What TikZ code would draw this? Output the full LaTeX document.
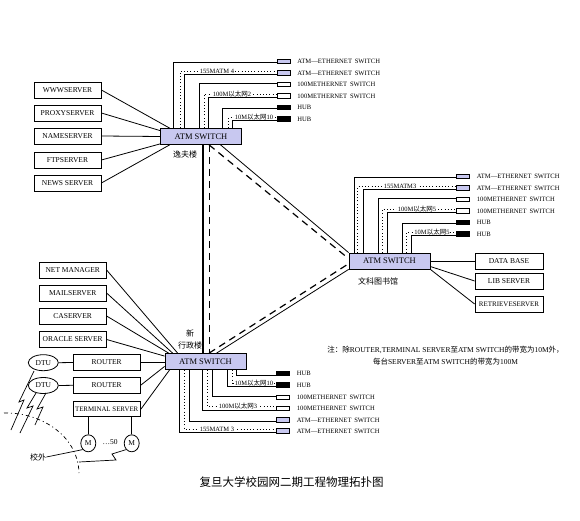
\documentclass[tikz,border=0pt]{standalone}
\usepackage{fontspec}
\setmainfont{Liberation Serif}
\newfontfamily\cjk{Noto Sans CJK SC}
\usetikzlibrary{calc,shapes.geometric}
\definecolor{swblue}{RGB}{200,200,240}
\begin{document}
\begin{tikzpicture}[x=1pt,y=-1pt,line width=0.8pt,
  srv/.style={draw,fill=white,minimum width=67pt,minimum height=16pt,inner sep=0pt,font=\fontsize{7.5}{8}\selectfont},
  swbox/.style={draw,fill=swblue,minimum width=81pt,minimum height=16pt,inner sep=0pt,font=\fontsize{8.5}{9}\selectfont},
  dev/.style={draw,minimum width=13pt,minimum height=4.5pt,inner sep=0pt},
  devA/.style={dev,fill=swblue},
  devE/.style={dev,fill=white},
  devH/.style={dev,fill=black},
  devlbl/.style={anchor=west,inner sep=0pt,font=\fontsize{6.6}{7}\selectfont},
  lnk/.style={anchor=south,fill=white,inner xsep=0.5pt,inner ysep=0.6pt,font=\fontsize{6.5}{6.5}\selectfont},
  dotl/.style={line width=0.9pt,dash pattern=on 0.9pt off 2.3pt},
  dashl/.style={line width=1.2pt,dash pattern=on 7pt off 5pt},
  cjklbl/.style={inner sep=0pt,font={\cjk\fontsize{8}{9}\selectfont}},
  dtu/.style={draw,ellipse,minimum width=30pt,minimum height=16pt,inner sep=0pt,font=\fontsize{7.5}{8}\selectfont},
  mc/.style={draw,ellipse,minimum width=15pt,minimum height=17pt,inner sep=0pt,font=\fontsize{7.5}{8}\selectfont},
  notef/.style={inner sep=0pt,font=\fontsize{7.5}{8}\selectfont}]
\useasboundingbox (0,0) rectangle (580,521);

% ---------- top switch ----------
\node[swbox] (tsw) at (201,136.5) {ATM SWITCH};
\node[cjklbl] (tswl) at (185,154) {逸夫楼};
\node[srv] (www) at (67.5,90) {WWWSERVER};
\node[srv] (proxy) at (67.5,113) {PROXYSERVER};
\node[srv] (name) at (67.5,136) {NAMESERVER};
\node[srv] (ftp) at (67.5,160) {FTPSERVER};
\node[srv] (news) at (67.5,183) {NEWS SERVER};
\draw (www.east) -- ($(tsw.north west)+(9.5,0)$);
\draw (proxy.east) -- ($(tsw.north west)+(0,2.5)$);
\draw (name.east) -- (tsw.west);
\draw (ftp.east) -- ($(tsw.south west)+(0,-1)$);
\draw (news.east) -- ($(tsw.south west)+(9.5,0)$);

\node[devA] (t1) at (283.5,61.5) {};
\node[devA] (t2) at (283.5,73) {};
\node[devE] (t3) at (283.5,84.5) {};
\node[devE] (t4) at (283.5,96) {};
\node[devH] (t5) at (283.5,107.5) {};
\node[devH] (t6) at (283.5,119) {};
\node[devlbl] (t1l) at (297,61.5) {ATM—ETHERNET\, SWITCH};
\node[devlbl] (t2l) at (297,73) {ATM—ETHERNET\, SWITCH};
\node[devlbl] (t3l) at (297,84.5) {100METHERNET\, SWITCH};
\node[devlbl] (t4l) at (297,96) {100METHERNET\, SWITCH};
\node[devlbl] (t5l) at (297,107.5) {HUB};
\node[devlbl] (t6l) at (297,119) {HUB};

\draw ($(tsw.north west)+(13.5,0)$) |- ($(t1.west)+(0,1)$);
\draw[dotl] ($(tsw.north west)+(20,0)$) |- ($(t2.west)+(0,-1.8)$);
\draw ($(tsw.north west)+(24.5,0)$) |- ($(t2.west)+(0,1.8)$);
\node[lnk] (tBl) at (217,74.8) {155MATM 4};
\draw ($(tsw.north west)+(39.5,0)$) |- ($(t3.west)+(0,-1)$);
\draw[dotl] ($(tsw.north west)+(44,0)$) |- ($(t4.west)+(0,-1.8)$);
\draw ($(tsw.north west)+(48.5,0)$) |- ($(t4.west)+(0,1.8)$);
\node[lnk] (tDl) at (232,97.8) {100M{\cjk 以太网}2};
\draw ($(tsw.north west)+(62,0)$) |- ($(t5.west)+(0,1)$);
\draw[dotl] ($(tsw.north west)+(68.5,0)$) |- ($(t6.west)+(0,-1.8)$);
\draw ($(tsw.north west)+(72.5,0)$) |- ($(t6.west)+(0,1.8)$);
\node[lnk] (tFl) at (254,120.8) {10M{\cjk 以太网}10};

% ---------- middle switch ----------
\node[swbox] (msw) at (389.5,261) {ATM SWITCH};
\node[cjklbl] (mswl) at (378,281.5) {文科图书馆};
\node[srv,minimum width=68pt] (db) at (509,261) {DATA BASE};
\node[srv,minimum width=68pt] (lib) at (509,281) {LIB SERVER};
\node[srv,minimum width=68pt,font=\fontsize{7}{8}\selectfont] (ret) at (509,304) {RETRIEVESERVER};
\draw (msw.east) -- (db.west);
\draw ($(msw.east)+(0,5.5)$) -- (lib.west);
\draw (msw.south east) -- (ret.west);

\node[devA] (m1) at (462.5,176.5) {};
\node[devA] (m2) at (462.5,188) {};
\node[devE] (m3) at (462.5,199.5) {};
\node[devE] (m4) at (462.5,211) {};
\node[devH] (m5) at (462.5,222.5) {};
\node[devH] (m6) at (462.5,234) {};
\node[devlbl] (m1l) at (476.5,176.5) {ATM—ETHERNET\, SWITCH};
\node[devlbl] (m2l) at (476.5,188) {ATM—ETHERNET\, SWITCH};
\node[devlbl] (m3l) at (476.5,199.5) {100METHERNET\, SWITCH};
\node[devlbl] (m4l) at (476.5,211) {100METHERNET\, SWITCH};
\node[devlbl] (m5l) at (476.5,222.5) {HUB};
\node[devlbl] (m6l) at (476.5,234) {HUB};

\draw ($(msw.north west)+(5.3,0)$) |- ($(m1.west)+(0,1)$);
\draw[dotl] ($(msw.north west)+(9.3,0)$) |- ($(m2.west)+(0,-1.8)$);
\draw ($(msw.north west)+(14.3,0)$) |- ($(m2.west)+(0,1.8)$);
\node[lnk] (mBl) at (400,189.8) {155MATM3};
\draw ($(msw.north west)+(29.3,0)$) |- ($(m3.west)+(0,-1)$);
\draw[dotl] ($(msw.north west)+(33.7,0)$) |- ($(m4.west)+(0,-1.8)$);
\draw ($(msw.north west)+(38.7,0)$) |- ($(m4.west)+(0,1.8)$);
\node[lnk] (mDl) at (417,212.8) {100M{\cjk 以太网}5};
\draw ($(msw.north west)+(53.3,0)$) |- ($(m5.west)+(0,1)$);
\draw[dotl] ($(msw.north west)+(57.7,0)$) |- ($(m6.west)+(0,-1.8)$);
\draw ($(msw.north west)+(62.7,0)$) |- ($(m6.west)+(0,1.8)$);
\node[lnk] (mFl) at (432,235.8) {10M{\cjk 以太网}5};

% ---------- bottom switch ----------
\node[swbox] (bsw) at (205.5,361.5) {ATM SWITCH};
\node[cjklbl] (xin) at (190,333) {新};
\node[cjklbl] (xzl) at (190,345.5) {行政楼};
\node[srv] (netm) at (72.7,270) {NET MANAGER};
\node[srv] (mail) at (72.7,293) {MAILSERVER};
\node[srv] (ca) at (72.7,316) {CASERVER};
\node[srv] (oracle) at (72.7,339.5) {ORACLE SERVER};
\node[srv] (r1) at (106.7,362.5) {ROUTER};
\node[srv] (r2) at (106.7,385.3) {ROUTER};
\node[srv,line width=1.3pt,minimum height=15pt,font=\fontsize{6.9}{8}\selectfont] (ts) at (106.7,409.2) {TERMINAL SERVER};
\node[dtu] (d1) at (43.3,362.7) {DTU};
\node[dtu] (d2) at (43.3,385.5) {DTU};
\node[mc] (mo1) at (88.3,443.3) {M};
\node[mc] (mo2) at (131.7,443.3) {M};
\node[inner sep=0pt,font=\fontsize{7.5}{8}\selectfont] (dots) at (110,442) {…50};
\node[cjklbl] (xw) at (38,457) {校外};

\draw (netm.east) -- ($(bsw.north west)+(13,0)$);
\draw (mail.east) -- ($(bsw.north west)+(8,0)$);
\draw (ca.east) -- ($(bsw.north west)+(4,0)$);
\draw (oracle.east) -- ($(bsw.north west)+(0,3)$);
\draw (r1.east) -- (r1.east -| bsw.west);
\draw (r2.east) -- ($(bsw.south west)+(0,-3.5)$);
\draw (ts.east) -- ($(bsw.south west)+(5,0)$);
\draw (d1.east) -- (r1.west);
\draw (d2.east) -- (r2.west);
\draw (mo1.north |- ts.south) -- (mo1.north);
\draw (mo2.north |- ts.south) -- (mo2.north);

% lightning and boundary
\draw[line width=0.7pt] (34,371) -- (19,402) -- (24,400) -- (11,430);
\draw[line width=0.7pt] (36,393) -- (27,408) -- (33,406) -- (20,433);
\draw[line width=0.7pt] (46,393) -- (37,409) -- (43,407) -- (35,425);
\draw[line width=0.7pt,dash pattern=on 4pt off 3pt on 1pt off 3pt] (4,413) .. controls (40,412) and (78,435) .. (79,473);
\draw[line width=0.7pt] (xw.east) -- (mo1.south west);
\draw[line width=0.7pt] (79,462) -- (116,460) -- (112,454) -- (mo2.south west);

\node[devH] (b1) at (283,373.5) {};
\node[devH] (b2) at (283,385) {};
\node[devE] (b3) at (283,397.5) {};
\node[devE] (b4) at (283,408.5) {};
\node[devA] (b5) at (283,420) {};
\node[devA] (b6) at (283,431) {};
\node[devlbl] (b1l) at (296.5,373.5) {HUB};
\node[devlbl] (b2l) at (296.5,385) {HUB};
\node[devlbl] (b3l) at (296.5,397.5) {100METHERNET\, SWITCH};
\node[devlbl] (b4l) at (296.5,408.5) {100METHERNET\, SWITCH};
\node[devlbl] (b5l) at (296.5,420) {ATM—ETHERNET\, SWITCH};
\node[devlbl] (b6l) at (296.5,431) {ATM—ETHERNET\, SWITCH};

\draw ($(bsw.south west)+(72,0)$) |- ($(b1.west)+(0,1.5)$);
\draw[dotl] ($(bsw.south west)+(68,0)$) |- ($(b2.west)+(0,-1.8)$);
\draw ($(bsw.south west)+(63,0)$) |- ($(b2.west)+(0,1.8)$);
\node[lnk] (bEl) at (254,386.8) {10M{\cjk 以太网}10};
\draw ($(bsw.south west)+(48,0)$) |- ($(b3.west)+(0,-1)$);
\draw[dotl] ($(bsw.south west)+(43,0)$) |- ($(b4.west)+(0,-1.8)$);
\draw ($(bsw.south west)+(38,0)$) |- ($(b4.west)+(0,1.8)$);
\node[lnk] (bDl) at (238,410.3) {100M{\cjk 以太网}3};
\draw ($(bsw.south west)+(25,0)$) |- ($(b5.west)+(0,1)$);
\draw[dotl] ($(bsw.south west)+(20,0)$) |- ($(b6.west)+(0,-1.8)$);
\draw ($(bsw.south west)+(15,0)$) |- ($(b6.west)+(0,1.8)$);
\node[lnk] (bBl) at (217,432.8) {155MATM 3};

% ---------- backbone ----------
\draw[line width=1.6pt] ($(tsw.south west)+(43,0)$) -- ($(bsw.north west)+(38.5,0)$);
\draw[dashl] ($(tsw.south west)+(49,0)$) -- ($(bsw.north west)+(44.5,0)$);
\draw ($(tsw.south west)+(60.5,0)$) -- (msw.north west);
\draw ($(bsw.north west)+(52,0)$) -- (msw.south west);
\draw[dashl] ($(tsw.south west)+(49,0)$) -- ($(msw.west)+(-2,-4)$);
\draw[dashl] ($(bsw.north west)+(44.5,0)$) -- ($(msw.west)+(-2,4)$);

% ---------- notes ----------
\node[notef,anchor=west] (note1) at (327,350) {{\cjk 注：除}ROUTER,TERMINAL SERVER{\cjk 至}ATM SWITCH{\cjk 的带宽为}10M{\cjk 外，}};
\node[notef,anchor=north] (note2) at ($(note1.south)+(0,4)$) {{\cjk 每台}SERVER{\cjk 至}ATM SWITCH{\cjk 的带宽为}100M};
\node[inner sep=0pt,font={\cjk\fontsize{11.5}{12}\selectfont}] (title) at (291.5,482) {复旦大学校园网二期工程物理拓扑图};
\end{tikzpicture}
\end{document}
